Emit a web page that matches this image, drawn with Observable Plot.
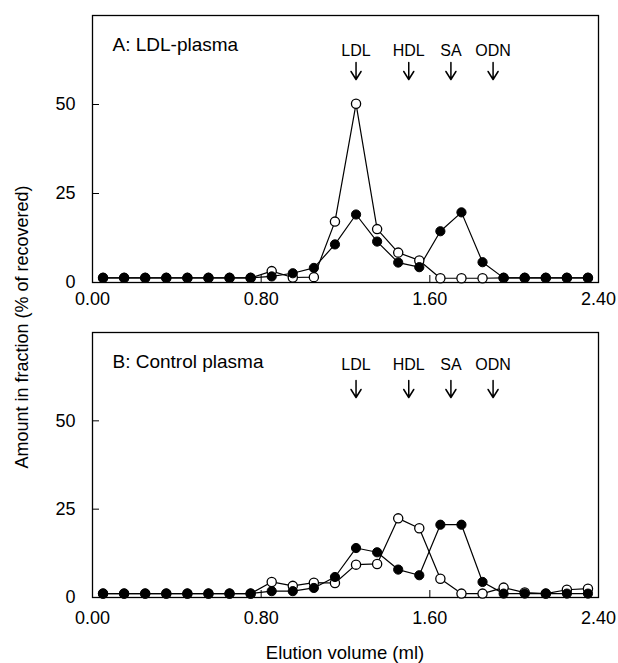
<!DOCTYPE html>
<html>
<head>
<meta charset="utf-8">
<script src="https://cdn.jsdelivr.net/npm/d3@7"></script>
<script src="https://cdn.jsdelivr.net/npm/@observablehq/plot@0.6"></script>
<style>
  html, body { margin: 0; padding: 0; background: #fff; }
  #wrap { position: relative; width: 618px; height: 663px; font-family: "Liberation Sans", Arial, sans-serif; }
  .panel { position: absolute; left: 0; }
  #ytitle { position: absolute; left: 22px; top: 327px; transform: translate(-50%, -50%) rotate(-90deg); white-space: nowrap; font-size: 18px; color: #000; }
  #xtitle { position: absolute; left: 345px; top: 653px; transform: translate(-50%, -50%); white-space: nowrap; font-size: 18.5px; color: #000; }
</style>
</head>
<body>
<div id="wrap">
  <div id="pA" class="panel" style="top:0px"></div>
  <div id="pB" class="panel" style="top:317px"></div>
  <div id="ytitle">Amount in fraction (% of recovered)</div>
  <div id="xtitle">Elution volume (ml)</div>
</div>
<script>
// Fraction midpoints (ml)
const volume = [0.05, 0.15, 0.25, 0.35, 0.45, 0.55, 0.65, 0.75, 0.85, 0.95, 1.05, 1.15,
                1.25, 1.35, 1.45, 1.55, 1.65, 1.75, 1.85, 1.95, 2.05, 2.15, 2.25, 2.35];
// Panel A: LDL-plasma
const aFilled = [1.3, 1.3, 1.3, 1.3, 1.3, 1.3, 1.3, 1.3, 1.7, 2.6, 4.1, 10.7,
                 19.1, 11.5, 5.6, 4.3, 14.4, 19.7, 5.7, 1.3, 1.3, 1.3, 1.3, 1.3];
const aOpen   = [1.3, 1.3, 1.3, 1.3, 1.3, 1.3, 1.3, 1.3, 3.2, 1.4, 1.5, 17.1,
                 50.2, 15.0, 8.4, 6.2, 1.2, 1.2, 1.2, 1.3, 1.3, 1.3, 1.3, 1.3];
// Panel B: Control plasma
const bFilled = [1.1, 1.1, 1.1, 1.1, 1.1, 1.1, 1.1, 1.1, 1.8, 1.8, 2.7, 5.8,
                 14.0, 12.8, 7.9, 6.3, 20.6, 20.6, 4.4, 1.1, 1.1, 1.1, 1.1, 1.1];
const bOpen   = [1.1, 1.1, 1.1, 1.1, 1.1, 1.1, 1.1, 1.1, 4.4, 3.3, 4.2, 4.1,
                 9.3, 9.5, 22.4, 19.6, 5.3, 1.1, 1.1, 2.8, 1.4, 1.1, 2.2, 2.5];
// Marker annotations
const markerNames = ["LDL", "HDL", "SA", "ODN"];
const markerX = [1.25, 1.50, 1.70, 1.90];
// Axis ticks
const xTicks = [0, 0.8, 1.6, 2.4];
const yTicks = [0, 25, 50];
const xDomain = [0, 2.4];
const yDomain = [0, 75];

const arrowShape = {
  draw(context, l) {
    context.moveTo(0, 0);
    context.lineTo(0, -l);
    context.moveTo(-5, -l + 8);
    context.lineTo(0, -l);
    context.lineTo(5, -l + 8);
  }
};

function panel(title, filled, open, labelDy, arrowDy, titleDy, xPad, mb) {
  const fData = volume.map((v, i) => ({v, y: filled[i]}));
  const oData = volume.map((v, i) => ({v, y: open[i]}));
  const markers = markerNames.map((n, i) => ({n, x: markerX[i]}));
  return Plot.plot({
    width: 618,
    height: 310,
    marginLeft: 92,
    marginRight: 20,
    marginTop: 15,
    marginBottom: mb,
    style: {fontFamily: "Liberation Sans, Arial, sans-serif", fontSize: "18px", color: "#000", background: "#fff", overflow: "visible"},
    x: {domain: xDomain},
    y: {domain: yDomain},
    marks: [
      Plot.frame({stroke: "#000", strokeWidth: 1.3}),
      Plot.axisX({ticks: xTicks, tickFormat: d3.format(".2f"), tickSize: -7, tickPadding: xPad, label: null, fontSize: 18}),
      Plot.axisY({ticks: yTicks, tickSize: -7, tickPadding: 24, label: null, fontSize: 18}),
      Plot.line(oData, {x: "v", y: "y", stroke: "#000", strokeWidth: 1.2}),
      Plot.line(fData, {x: "v", y: "y", stroke: "#000", strokeWidth: 1.2}),
      Plot.dot(oData, {x: "v", y: "y", r: 4.6, fill: "#fff", stroke: "#000", strokeWidth: 1.3}),
      Plot.dot(fData, {x: "v", y: "y", r: 4.6, fill: "#000", stroke: "#000", strokeWidth: 1}),
      Plot.text(markers, {x: "x", text: "n", frameAnchor: "top", dy: labelDy, fontSize: 16}),
      Plot.vector(markers, {x: "x", frameAnchor: "top", dy: arrowDy, length: 17, rotate: 180, anchor: "start", shape: arrowShape, stroke: "#000", strokeWidth: 1.5}),
      Plot.text([title], {frameAnchor: "top-left", dx: 20, dy: titleDy, textAnchor: "start", fontSize: 19})
    ]
  });
}

document.getElementById("pA").appendChild(panel("A: LDL-plasma", aFilled, aOpen, 29, 47, 22, 17, 28));
document.getElementById("pB").appendChild(panel("B: Control plasma", bFilled, bOpen, 26, 48, 22, 21, 30));
</script>
</body>
</html>
